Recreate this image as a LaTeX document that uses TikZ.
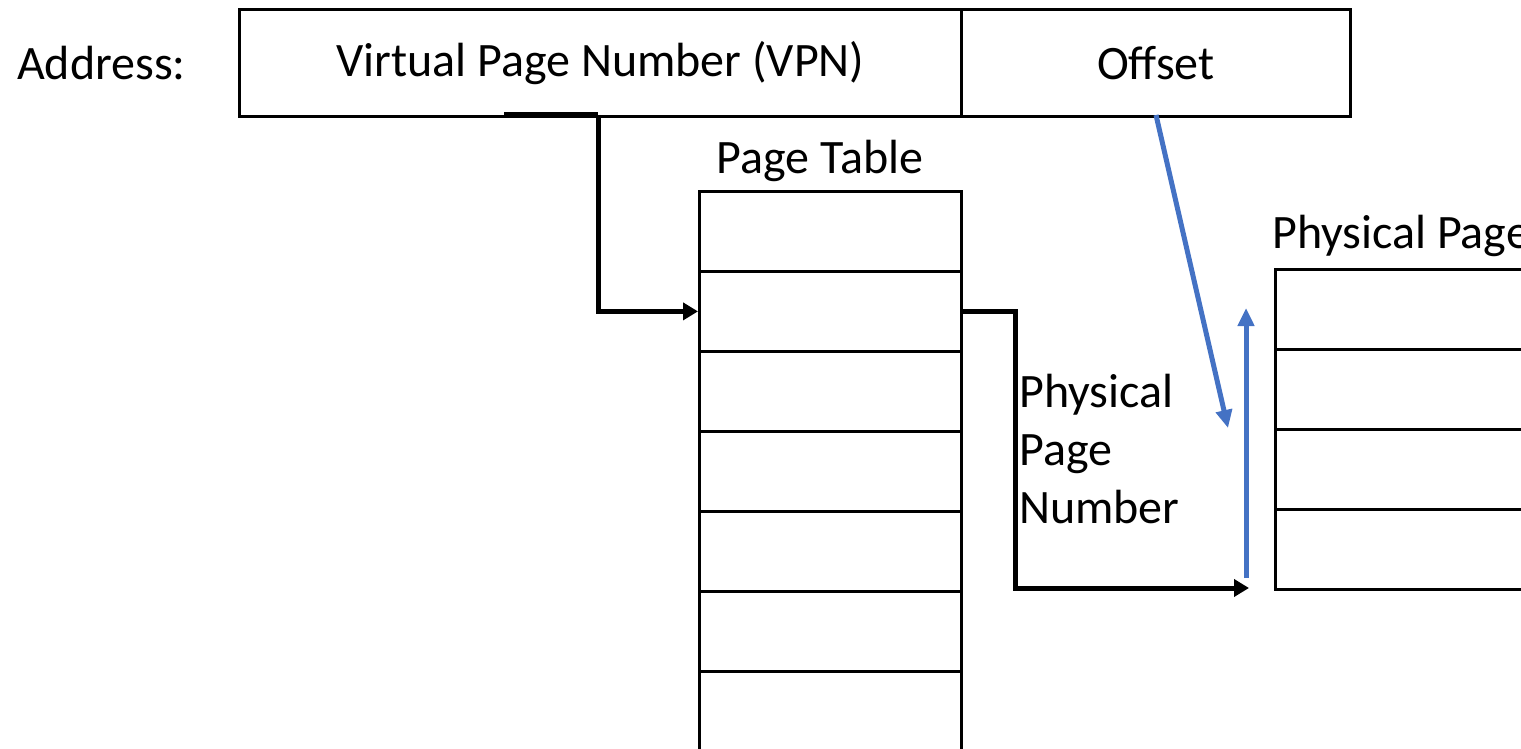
\documentclass[tikz,border=0pt]{standalone}
\usepackage{fontspec}
\setmainfont{Carlito}
\usetikzlibrary{arrows.meta}
\definecolor{linkblue}{HTML}{4472C4}
\tikzset{
  cell/.style={draw=black, line width=2.8pt, inner sep=0pt, minimum width=262pt, minimum height=80pt},
  pcell/.style={draw=black, line width=2.8pt, inner sep=0pt, minimum width=300pt, minimum height=80pt},
  lbl/.style={font=\fontsize{48}{58}\selectfont, inner sep=0pt},
  fieldbox/.style={draw=black, line width=2.8pt, inner sep=0pt, minimum height=107pt, font=\fontsize{48}{58}\selectfont},
  blackarrow/.style={line width=5pt, -{Triangle[length=15pt,width=17pt]}},
  bluearrow/.style={draw=linkblue, line width=5pt, -{Triangle[length=18pt,width=16pt]}}
}
\begin{document}
\begin{tikzpicture}[x=1pt,y=-1pt]
\useasboundingbox (0,0) rectangle (1521,749);
\clip (0,0) rectangle (1521,749);

% address fields
\node[lbl, anchor=west] (addr) at (17,63) {Address:};
\node[fieldbox, minimum width=722pt, anchor=north west] (vpn) at (238,8) {Virtual Page Number (VPN)};
\node[fieldbox, minimum width=389pt, anchor=north west] (off) at (960,8) {Offset};

% page table
\node[lbl] (ptlabel) at (820,161) {Page Table};
\foreach \i in {0,...,7} {
  \node[cell, anchor=north west] (pt\i) at (698,{190+80*\i}) {};
}

% physical pages
\node[lbl, anchor=west] (pplabel) at (1272,236) {Physical Page};
\foreach \i in {0,...,3} {
  \node[pcell, anchor=north west] (pp\i) at (1274,{268+80*\i}) {};
}

% physical page number label
\node[lbl, anchor=north west, align=left] (ppn) at (1019,374) {Physical\\Page\\Number};

% connectors
\coordinate (vpnout) at (504,115);
\draw[line width=5pt] (vpnout) -- (598,115);
\draw[blackarrow] (598,115) |- (pt1.west);
\draw[blackarrow] (pt1.east) -- ++(53,0) |- (1249,588);
\coordinate (offout) at (1156,115);
\coordinate (offin) at (1228,428);
\draw[bluearrow] (offout) -- (offin);
\coordinate (pbase) at (1246,578);
\coordinate (ptop) at (1246,308);
\draw[bluearrow] (pbase) -- (ptop);
\end{tikzpicture}
\end{document}
